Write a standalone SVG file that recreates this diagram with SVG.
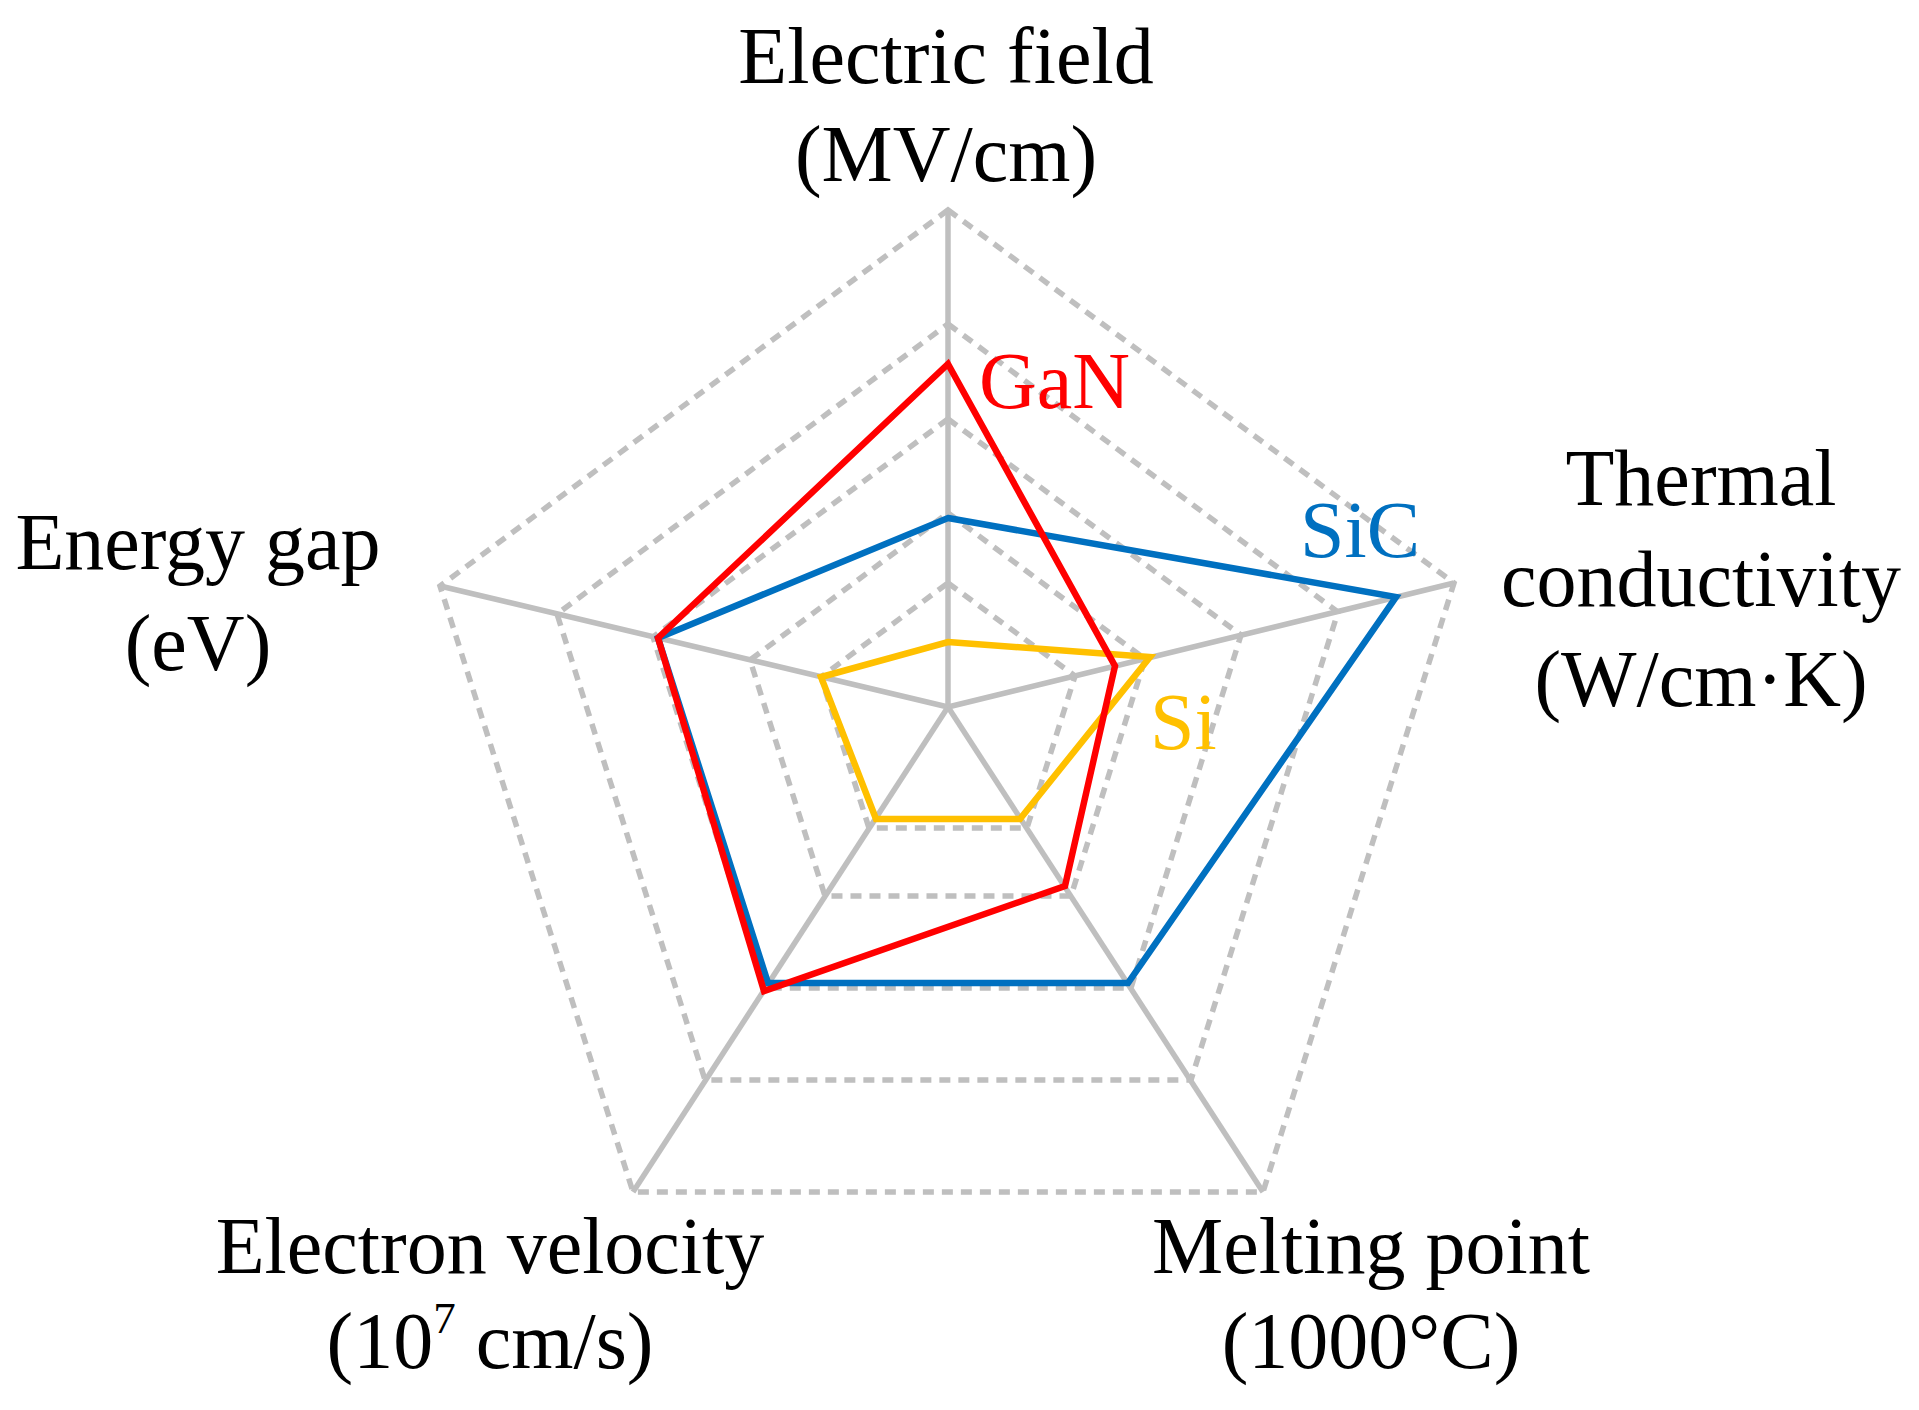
<svg xmlns="http://www.w3.org/2000/svg" width="1919" height="1410" viewBox="0 0 1919 1410">
<style>
.ring{fill:none;stroke:#BFBFBF;stroke-width:5.5;stroke-dasharray:11 8}
.axis{stroke:#BFBFBF;stroke-width:5.5}
.data{fill:none;stroke-width:6.5;stroke-linejoin:miter}
text{font-family:"Liberation Serif","Times New Roman",serif;font-size:80px;fill:#000}
.c{text-anchor:middle}
</style>
<rect width="1919" height="1410" fill="#fff"/>
<g id="grid">
<polygon class="ring" points="948,210 1454,583 1263,1192 633,1192 440,586"/>
<polygon class="ring" points="948,324 1338,612 1191,1080 705,1080 557,614"/>
<polygon class="ring" points="948,419 1241,635 1131,988 765,988 653,637"/>
<polygon class="ring" points="948,513 1145,659 1071,896 825,896 750,660"/>
<polygon class="ring" points="948,583 1075,676 1027,828 869,828 821,677"/>
</g>
<g id="axes">
<line class="axis" x1="948" y1="707" x2="948" y2="210"/>
<line class="axis" x1="948" y1="707" x2="1454" y2="583"/>
<line class="axis" x1="948" y1="707" x2="1263" y2="1192"/>
<line class="axis" x1="948" y1="707" x2="633" y2="1192"/>
<line class="axis" x1="948" y1="707" x2="440" y2="586"/>
</g>
<g id="series">
<polygon id="Si" class="data" stroke="#FFC000" points="948,642 1150,657 1020,819 876,819 821,677"/>
<polygon id="SiC" class="data" stroke="#0070C0" points="948,518 1396,597 1128,983 768,983 658,638"/>
<polygon id="GaN" class="data" stroke="#FF0000" points="948,364 1115,666 1065,886 764,991 658,638"/>
</g>
<g id="labels">
<text class="c" x="946" y="83">Electric field</text>
<text class="c" x="946" y="181">(MV/cm)</text>
<text class="c" x="1701" y="505">Thermal</text>
<text class="c" x="1701" y="606">conductivity</text>
<text class="c" x="1701" y="706">(W/cm·K)</text>
<text class="c" x="198" y="569">Energy gap</text>
<text class="c" x="198" y="670">(eV)</text>
<text class="c" x="490" y="1273">Electron velocity</text>
<text class="c" x="490" y="1368">(10<tspan dy="-35" font-size="45">7</tspan><tspan dy="35"> cm/s)</tspan></text>
<text class="c" x="1371" y="1273">Melting point</text>
<text class="c" x="1371" y="1368">(1000°C)</text>
<text x="979" y="408" style="fill:#FF0000">GaN</text>
<text x="1300" y="557" style="fill:#0070C0">SiC</text>
<text x="1150" y="749" style="fill:#FFC000">Si</text>
</g>
</svg>
